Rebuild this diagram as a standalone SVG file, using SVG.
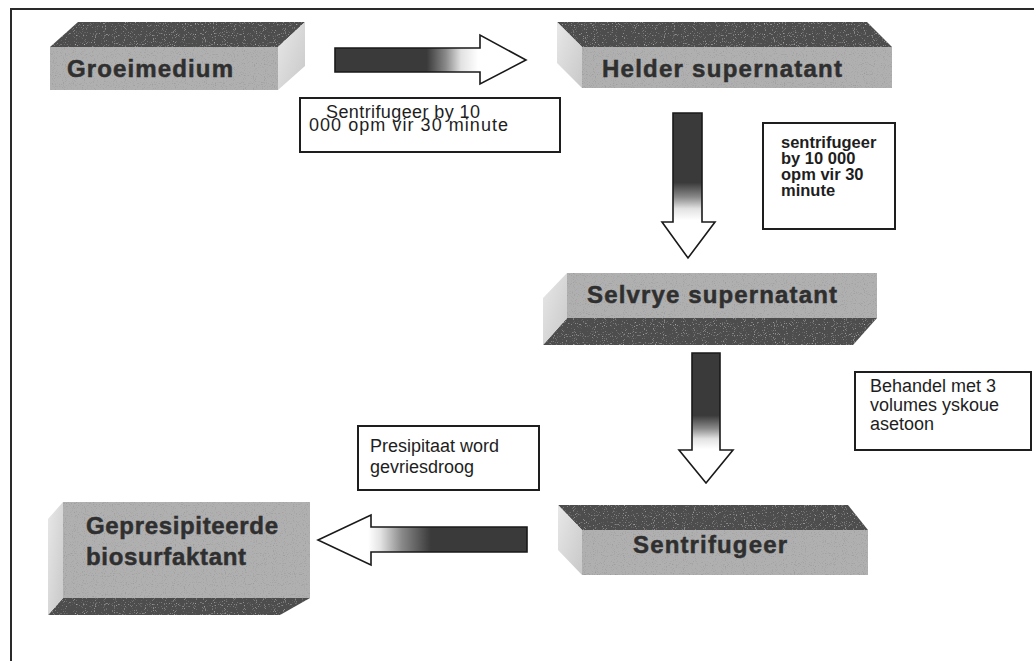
<svg xmlns="http://www.w3.org/2000/svg" width="1034" height="661" viewBox="0 0 1034 661">
<defs>
<style>
.frame{stroke:#2a2a2a;stroke-width:2;fill:none}
.top{fill:#4e4e4e;filter:url(#grainL)}
.front{fill:#b0b0b0;filter:url(#grainD)}
.side{fill:url(#sideG)}
.title{font-family:"Liberation Sans",Arial,sans-serif;font-weight:bold;font-size:24px;fill:#2f2f2f;stroke:#2f2f2f;stroke-width:0.5}
.lbox{fill:#fff;stroke:#1e1e1e;stroke-width:2}
.ltxt{font-family:"Liberation Sans",Arial,sans-serif;font-size:18px;fill:#1e1e1e}
.ltxtb{font-family:"Liberation Sans",Arial,sans-serif;font-size:16.5px;font-weight:bold;fill:#1e1e1e}
.arrow{stroke:#1a1a1a;stroke-width:1.6;stroke-linejoin:miter}
</style>
<filter id="grainD" x="0" y="0" width="100%" height="100%">
<feTurbulence type="fractalNoise" baseFrequency="0.9" numOctaves="1" seed="4" result="n"/>
<feColorMatrix in="n" type="matrix" values="0 0 0 0 0.2  0 0 0 0 0.2  0 0 0 0 0.2  -1.6 0 0 0 0.74" result="a"/>
<feComposite in="a" in2="SourceGraphic" operator="in" result="dots"/>
<feMerge><feMergeNode in="SourceGraphic"/><feMergeNode in="dots"/></feMerge>
</filter>
<filter id="grainL" x="0" y="0" width="100%" height="100%">
<feTurbulence type="fractalNoise" baseFrequency="0.9" numOctaves="1" seed="9" result="n"/>
<feColorMatrix in="n" type="matrix" values="0 0 0 0 0.8  0 0 0 0 0.8  0 0 0 0 0.8  -2.0 0 0 0 0.8" result="a"/>
<feComposite in="a" in2="SourceGraphic" operator="in" result="dots"/>
<feMerge><feMergeNode in="SourceGraphic"/><feMergeNode in="dots"/></feMerge>
</filter>
<linearGradient id="sideG" x1="0" y1="0" x2="1" y2="1">
<stop offset="0" stop-color="#e8e8e8"/>
<stop offset="1" stop-color="#c8c8c8"/>
</linearGradient>
<linearGradient id="gRight" x1="0" y1="0" x2="1" y2="0">
<stop offset="0" stop-color="#3a3a3a"/>
<stop offset="0.48" stop-color="#3a3a3a"/>
<stop offset="0.58" stop-color="#8a8a8a"/>
<stop offset="0.66" stop-color="#e2e2e2"/>
<stop offset="0.75" stop-color="#ffffff"/>
</linearGradient>
<linearGradient id="gLeft" x1="1" y1="0" x2="0" y2="0">
<stop offset="0" stop-color="#3a3a3a"/>
<stop offset="0.46" stop-color="#3a3a3a"/>
<stop offset="0.6" stop-color="#8a8a8a"/>
<stop offset="0.7" stop-color="#e2e2e2"/>
<stop offset="0.76" stop-color="#ffffff"/>
</linearGradient>
<linearGradient id="gDown" x1="0" y1="0" x2="0" y2="1">
<stop offset="0" stop-color="#3a3a3a"/>
<stop offset="0.48" stop-color="#3a3a3a"/>
<stop offset="0.58" stop-color="#8a8a8a"/>
<stop offset="0.66" stop-color="#e2e2e2"/>
<stop offset="0.74" stop-color="#ffffff"/>
</linearGradient>
</defs>
<rect x="0" y="0" width="1034" height="661" fill="#ffffff"/>
<g id="frame">
<polyline class="frame" points="11,661 11,9 1034,9"/>
</g>
<g id="connectors">
<polygon class="arrow" fill="url(#gRight)" points="335,48 480,48 480,35 526,60 480,84 480,72 335,72"/>
<polygon class="arrow" fill="url(#gDown)" points="673,113 702,113 702,222 715,222 688,258 662,222 673,222"/>
<polygon class="arrow" fill="url(#gDown)" points="692,353 720,353 720,450 733,450 706,483 679,450 692,450"/>
<polygon class="arrow" fill="url(#gLeft)" points="527,527 371,527 371,515 318,540 371,565 371,552 527,552"/>
</g>
<g id="groeimedium">
<polygon class="top" points="78,22 305,22 278,47 50,47"/>
<rect class="front" x="50" y="47" width="228" height="43"/>
<polygon class="side" points="278,47 305,22 305,66 278,90"/>
<text class="title" x="67" y="77" textLength="166" lengthAdjust="spacing">Groeimedium</text>
</g>
<g id="helder">
<polygon class="top" points="557,22 867,22 892,47 582,47"/>
<rect class="front" x="582" y="47" width="310" height="41"/>
<polygon class="side" points="557,22 582,47 582,88 557,63"/>
<text class="title" x="602" y="77" textLength="240" lengthAdjust="spacing">Helder supernatant</text>
</g>
<g id="selvrye">
<rect class="front" x="567" y="273" width="310" height="45"/>
<polygon class="top" points="567,318 877,318 853,345 543,345"/>
<polygon class="side" points="567,273 567,318 543,345 543,298"/>
<text class="title" x="587" y="303" textLength="250" lengthAdjust="spacing">Selvrye supernatant</text>
</g>
<g id="sentrifugeer">
<polygon class="top" points="558,505 848,505 868,530 582,530"/>
<rect class="front" x="582" y="530" width="286" height="45"/>
<polygon class="side" points="558,505 582,530 582,575 558,550"/>
<text class="title" x="633" y="553" textLength="154" lengthAdjust="spacing">Sentrifugeer</text>
</g>
<g id="gepresipiteerde">
<rect class="front" x="63" y="502" width="247" height="96"/>
<polygon class="top" points="63,598 310,598 280,615 48,615"/>
<polygon class="side" points="63,502 63,598 48,615 48,519"/>
<text class="title" x="86" y="534" textLength="192" lengthAdjust="spacing">Gepresipiteerde</text>
<text class="title" x="86" y="565" textLength="160" lengthAdjust="spacing">biosurfaktant</text>
</g>
<g id="label1">
<rect class="lbox" x="300" y="98" width="260" height="54"/>
<text class="ltxt" x="326" y="118" textLength="154" lengthAdjust="spacing">Sentrifugeer by 10</text>
<text class="ltxt" x="309" y="131" textLength="199" lengthAdjust="spacing">000 opm vir 30  minute</text>
</g>
<g id="label2">
<rect class="lbox" x="763" y="123" width="132" height="106"/>
<text class="ltxtb" x="781" y="148">sentrifugeer</text>
<text class="ltxtb" x="781" y="164">by 10 000</text>
<text class="ltxtb" x="781" y="180">opm vir 30</text>
<text class="ltxtb" x="781" y="196">minute</text>
</g>
<g id="label3">
<rect class="lbox" x="855" y="372" width="176" height="78"/>
<text class="ltxt" x="870" y="392" font-size="18.5">Behandel met 3</text>
<text class="ltxt" x="870" y="411" font-size="18.5">volumes yskoue</text>
<text class="ltxt" x="870" y="430" font-size="18.5">asetoon</text>
</g>
<g id="label4">
<rect class="lbox" x="358" y="426" width="181" height="64"/>
<text class="ltxt" x="370" y="452">Presipitaat word</text>
<text class="ltxt" x="370" y="473">gevriesdroog</text>
</g>
</svg>
